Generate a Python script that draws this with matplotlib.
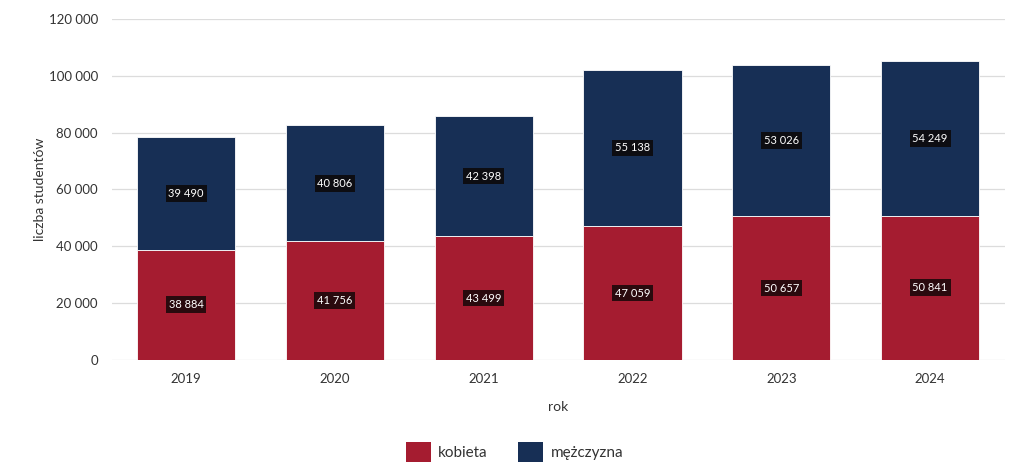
import matplotlib.pyplot as plt
import numpy as np
from matplotlib.patches import Patch

plt.rcParams['font.family'] = ['Lato', 'DejaVu Sans']

lata = ["2019", "2020", "2021", "2022", "2023", "2024"]
kobiety = [38884, 41756, 43499, 47059, 50657, 50841]
mezczyzni = [39490, 40806, 42398, 55138, 53026, 54249]

CZERWONY = "#A51C30"
GRANAT = "#172F55"


def fmt(v):
    return f"{v:,.0f}".replace(",", " ")


fig = plt.figure(figsize=(10.25, 4.69), dpi=100)
ax = fig.add_axes([0.109, 0.2324, 0.871, 0.7271])

x = np.arange(len(lata))
k = np.array(kobiety)
m = np.array(mezczyzni)

ax.bar(x, k, width=0.66, color=CZERWONY, edgecolor="white", linewidth=0.6, zorder=2)
ax.bar(x, m, width=0.66, bottom=k, color=GRANAT, edgecolor="white", linewidth=0.6, zorder=2)

box = dict(boxstyle="square,pad=0.25", fc="#0d0d12", ec="none")
for xi, kv, mv in zip(x, k, m):
    ax.text(xi, kv / 2, fmt(kv), ha="center", va="center", fontsize=8,
            color="white", bbox=dict(boxstyle="square,pad=0.25", fc="#2a0a0e", ec="none"), zorder=3)
    ax.text(xi, kv + mv / 2, fmt(mv), ha="center", va="center", fontsize=8,
            color="white", bbox=box, zorder=3)

ax.set_xlim(-0.5, len(lata) - 0.5)
ax.set_ylim(0, 120000)
ax.set_yticks(np.arange(0, 120001, 20000))
ax.set_yticklabels([fmt(v) for v in np.arange(0, 120001, 20000)])
ax.set_xticks(x)
ax.set_xticklabels(lata)

ax.grid(axis="y", color="#dcdcdc", linewidth=0.9, zorder=0)
ax.set_axisbelow(True)
for s in ax.spines.values():
    s.set_visible(False)
ax.tick_params(axis="both", length=0, labelsize=9.5, colors="#333333")
ax.tick_params(axis="y", pad=10)
ax.tick_params(axis="x", pad=9)

ax.set_xlabel("rok", fontsize=10, color="#333333", labelpad=12)
ax.set_ylabel("liczba studentów", fontsize=10, color="#333333", labelpad=2)

uchwyty = [Patch(facecolor=CZERWONY, edgecolor="none", label="kobieta"),
           Patch(facecolor=GRANAT, edgecolor="none", label="mężczyzna")]
fig.legend(handles=uchwyty, loc="center", bbox_to_anchor=(0.502, 0.036), ncol=2,
           frameon=False, fontsize=11, handlelength=1.6, handleheight=1.6,
           columnspacing=2.0, handletextpad=0.5, labelcolor="#333333")

plt.savefig("out.png", dpi=100)
